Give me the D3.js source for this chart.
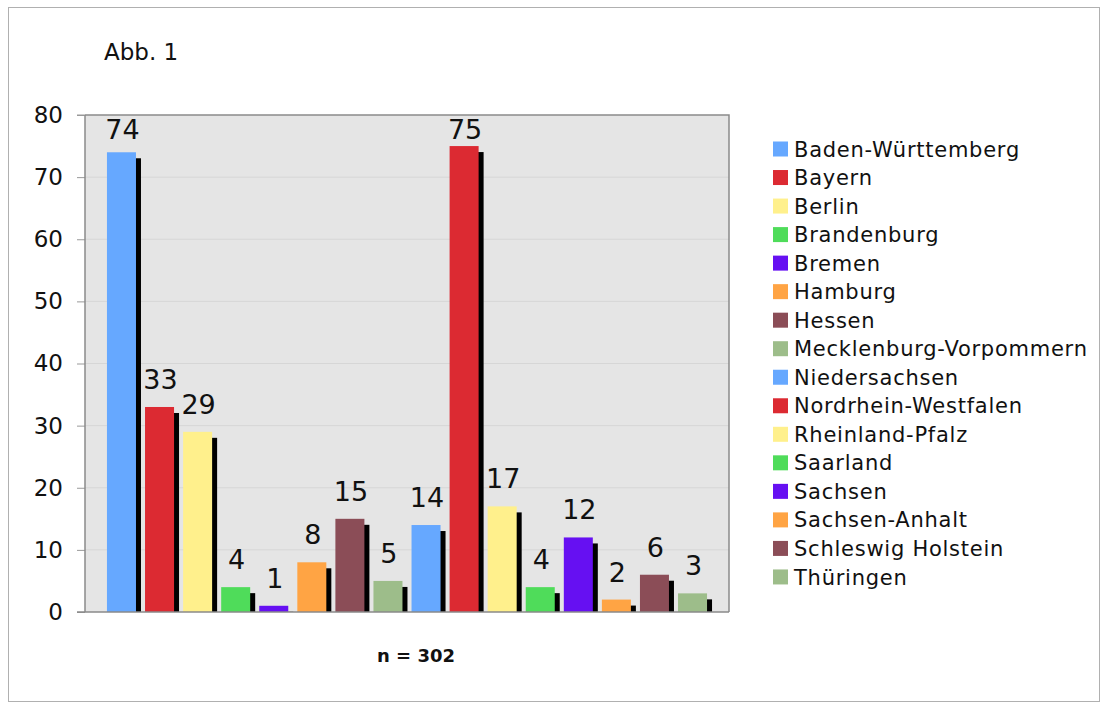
<!DOCTYPE html>
<html><head><meta charset="utf-8">
<script src="https://cdn.jsdelivr.net/npm/d3@7"></script>
<style>body{margin:0;background:#fff;} text{font-family:"DejaVu Sans",Verdana,sans-serif;}</style>
</head><body><svg id="c" width="1107" height="705"></svg>
<script>
const states = ["Baden-Württemberg","Bayern","Berlin","Brandenburg","Bremen","Hamburg","Hessen","Mecklenburg-Vorpommern","Niedersachsen","Nordrhein-Westfalen","Rheinland-Pfalz","Saarland","Sachsen","Sachsen-Anhalt","Schleswig Holstein","Thüringen"];
const values = [74,33,29,4,1,8,15,5,14,75,17,4,12,2,6,3];
const colors = ["#66a8ff","#dc2a32","#fff08c","#4fdc5a","#6610f2","#ffa444","#8b4d57","#9dbd8a","#66a8ff","#dc2a32","#fff08c","#4fdc5a","#6610f2","#ffa444","#8b4d57","#9dbd8a"];
const yTicks = [0,10,20,30,40,50,60,70,80];
const title = "Abb. 1";
const xTitle = "n = 302";

const svg = d3.select("#c");
const L = 85, R = 729, T = 115, B = 612;
svg.append("rect").attr("x",8.5).attr("y",7.5).attr("width",1091).attr("height",694)
  .attr("fill","#fff").attr("stroke","#b0b0b0").attr("stroke-width",1);

const y = d3.scaleLinear().domain([0,80]).range([B,T]);
const x = d3.scaleBand().domain(states).range([L,R]).paddingInner(0.238).paddingOuter(0.577);

svg.append("rect").attr("x",L).attr("y",T).attr("width",R-L).attr("height",B-T).attr("fill","#e5e5e5");
svg.append("g").selectAll("line").data(yTicks.filter(d=>d>0&&d<80)).join("line")
  .attr("x1",L).attr("x2",R).attr("y1",d=>y(d)).attr("y2",d=>y(d)).attr("stroke","#d6d6d6").attr("stroke-width",1);

const ax = svg.append("g").attr("transform",`translate(${L},0)`)
  .call(d3.axisLeft(y).tickValues(yTicks).tickSize(8).tickPadding(14));
ax.select(".domain").remove();
ax.selectAll("line").attr("stroke","#999");
ax.selectAll("text").attr("font-size",23).attr("fill","#111").attr("font-family","DejaVu Sans");

svg.append("clipPath").attr("id","pc").append("rect").attr("x",L).attr("y",T).attr("width",R-L).attr("height",B-T);
const g = svg.append("g").attr("clip-path","url(#pc)");
g.selectAll(".sh").data(values).join("rect").attr("class","sh")
  .attr("x",(d,i)=>x(states[i])+5).attr("y",d=>y(d)+6)
  .attr("width",x.bandwidth()).attr("height",d=>Math.max(0,B-y(d)))
  .attr("fill","#000");
g.selectAll(".bar").data(values).join("rect").attr("class","bar")
  .attr("x",(d,i)=>x(states[i])).attr("y",d=>y(d))
  .attr("width",x.bandwidth()).attr("height",d=>B-y(d))
  .attr("fill",(d,i)=>colors[i]);

svg.append("path").attr("d",`M${L},${T}H${R}V${B}`).attr("fill","none").attr("stroke","#8a8a8a").attr("stroke-width",1.5);
svg.append("line").attr("x1",L-8).attr("x2",R).attr("y1",B).attr("y2",B).attr("stroke","#8a8a8a").attr("stroke-width",1.5);
svg.append("line").attr("x1",L).attr("x2",L).attr("y1",T).attr("y2",B).attr("stroke","#8a8a8a").attr("stroke-width",1.5);
svg.append("line").attr("x1",L-8).attr("x2",L).attr("y1",T).attr("y2",T).attr("stroke","#999");

svg.append("g").selectAll("text").data(values).join("text")
  .attr("x",(d,i)=>x(states[i])+x.bandwidth()/2+1)
  .attr("y",d=>Math.max(y(d)-18, y(76.2)))
  .attr("text-anchor","middle").attr("font-size",27).attr("fill","#111").text(d=>d);

svg.append("text").attr("x",104).attr("y",60).attr("font-size",23).attr("fill","#111").text(title);
svg.append("text").attr("x",(L+R)/2+9).attr("y",662).attr("text-anchor","middle")
  .attr("font-size",18).attr("font-weight","bold").attr("fill","#111").text(xTitle);

const lg = svg.append("g").attr("transform","translate(773,149)");
const rows = lg.selectAll("g").data(states).join("g").attr("transform",(d,i)=>`translate(0,${i*28.53})`);
rows.append("rect").attr("x",0).attr("y",-7.5).attr("width",15).attr("height",15).attr("fill",(d,i)=>colors[i]);
rows.append("text").attr("x",21).attr("y",0).attr("dy","0.36em").attr("font-size",21)
  .attr("letter-spacing","0.75px").attr("fill","#111").text(d=>d);
</script></body></html>
